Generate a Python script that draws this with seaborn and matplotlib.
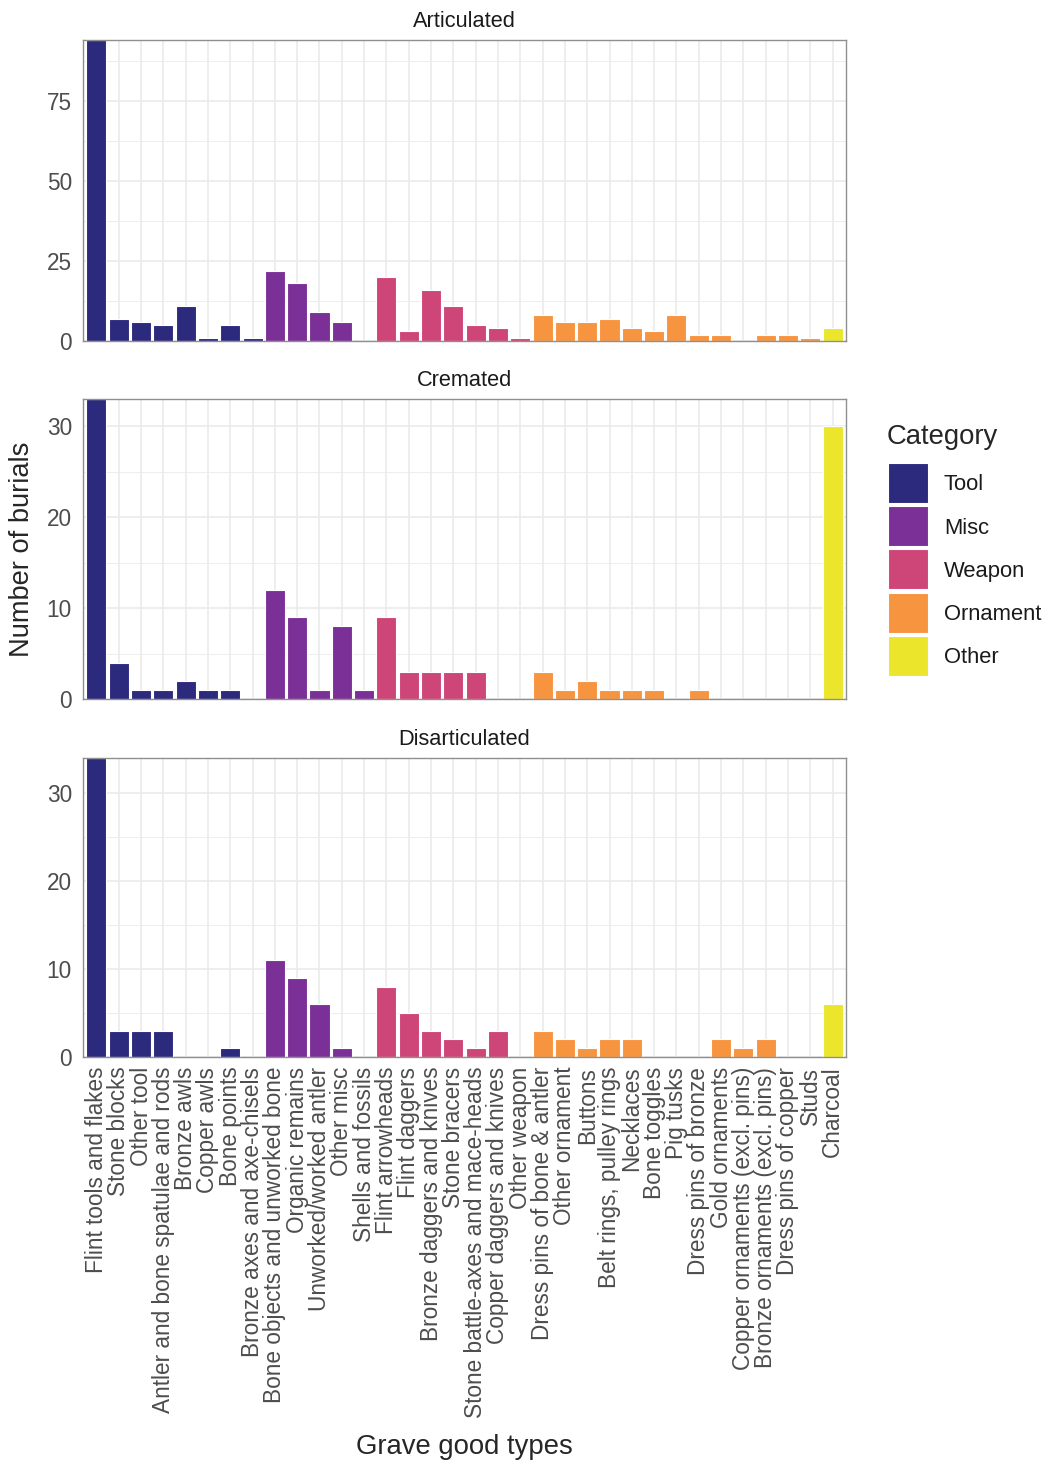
import pandas as pd
import matplotlib.pyplot as plt
import seaborn as sns
from matplotlib.patches import Rectangle
from matplotlib.ticker import FixedLocator

sns.set_style('white')
plt.rcParams['font.family'] = ['Liberation Sans', 'DejaVu Sans']

# grave good types, in plotting order
items = [
    'Flint tools and flakes', 'Stone blocks', 'Other tool',
    'Antler and bone spatulae and rods', 'Bronze awls', 'Copper awls',
    'Bone points', 'Bronze axes and axe-chisels',
    'Bone objects and unworked bone', 'Organic remains',
    'Unworked/worked antler', 'Other misc', 'Shells and fossils',
    'Flint arrowheads', 'Flint daggers', 'Bronze daggers and knives',
    'Stone bracers', 'Stone battle-axes and mace-heads',
    'Copper daggers and knives', 'Other weapon',
    'Dress pins of bone & antler', 'Other ornament', 'Buttons',
    'Belt rings, pulley rings', 'Necklaces', 'Bone toggles', 'Pig tusks',
    'Dress pins of bronze', 'Gold ornaments', 'Copper ornaments (excl. pins)',
    'Bronze ornaments (excl. pins)', 'Dress pins of copper', 'Studs',
    'Charcoal',
]
item_cat = (['Tool'] * 8 + ['Misc'] * 5 + ['Weapon'] * 7
            + ['Ornament'] * 13 + ['Other'])

categories = ['Tool', 'Misc', 'Weapon', 'Ornament', 'Other']
cat_colors = ['#2C2A7C', '#7A3096', '#CE4577', '#F7943F', '#EBE62B']

facets = ['Articulated', 'Cremated', 'Disarticulated']

articulated = [94, 7, 6, 5, 11, 1, 5, 1,
               22, 18, 9, 6, 0,
               20, 3, 16, 11, 5, 4, 1,
               8, 6, 6, 7, 4, 3, 8, 2, 2, 0, 2, 2, 1,
               4]
cremated = [33, 4, 1, 1, 2, 1, 1, 0,
            12, 9, 1, 8, 1,
            9, 3, 3, 3, 3, 0, 0,
            3, 1, 2, 1, 1, 1, 0, 1, 0, 0, 0, 0, 0,
            30]
disarticulated = [34, 3, 3, 3, 0, 0, 1, 0,
                  11, 9, 6, 1, 0,
                  8, 5, 3, 2, 1, 3, 0,
                  3, 2, 1, 2, 2, 0, 0, 0, 2, 1, 2, 0, 0,
                  6]
counts = [articulated, cremated, disarticulated]

y_major = [[0, 25, 50, 75], [0, 10, 20, 30], [0, 10, 20, 30]]
y_minor = [[12.5, 37.5, 62.5, 87.5], [5, 15, 25], [5, 15, 25]]

W, H = 1045, 1462
fig = plt.figure(figsize=(W / 100, H / 100), dpi=100)

# panel boxes in pixels (top, bottom)
left, right = 83, 846
boxes = [(40, 341), (399, 699), (758, 1057)]

for i, facet in enumerate(facets):
    top, bottom = boxes[i]
    ax = fig.add_axes([left / W, 1 - bottom / H, (right - left) / W, (bottom - top) / H])
    df = pd.DataFrame({'item': items, 'count': counts[i], 'Category': item_cat})
    sns.barplot(data=df, x='item', y='count', hue='Category', order=items,
                hue_order=categories, palette=cat_colors, dodge=False,
                saturation=1, width=0.9, edgecolor='white', linewidth=0.8,
                ax=ax, legend=False)
    ax.set_xlim(-0.6, len(items) - 0.4)
    ax.set_ylim(0, max(counts[i]))
    ax.yaxis.set_major_locator(FixedLocator(y_major[i]))
    ax.yaxis.set_minor_locator(FixedLocator(y_minor[i]))
    ax.set_axisbelow(True)
    ax.grid(which='major', axis='both', color='#EBEBEB', linewidth=1.2)
    ax.grid(which='minor', axis='y', color='#EBEBEB', linewidth=0.6)
    for s in ax.spines.values():
        s.set_color('#8F8F8F')
        s.set_linewidth(1.0)
    ax.tick_params(axis='y', which='both', length=0, pad=8, labelsize=16.3, labelcolor='#4D4D4D')
    ax.set_xlabel('')
    ax.set_ylabel('')
    ax.set_title(facet, fontsize=15.7, color='#1A1A1A', pad=9.5)
    if i < 2:
        ax.tick_params(axis='x', length=0, labelbottom=False)
    else:
        ax.tick_params(axis='x', length=0, pad=7, labelsize=16.3, labelcolor='#4D4D4D')
        ax.set_xticks(range(len(items)))
        ax.set_xticklabels(items, rotation=90, ha='center', va='top')

fig.text(22 / W, 1 - 549 / H, 'Number of burials', rotation=90,
         ha='center', va='center', fontsize=19.6)
fig.text(464 / W, 1 - 1447 / H, 'Grave good types', ha='center', va='center', fontsize=19.8)

# legend
fig.text(887 / W, 1 - 437 / H, 'Category', ha='left', va='center', fontsize=19.8)
for k, (cat, col) in enumerate(zip(categories, cat_colors)):
    ktop = 463 + k * 43.2
    fig.patches.append(Rectangle((888 / W, 1 - (ktop + 40) / H), 40 / W, 40 / H,
                                 transform=fig.transFigure, facecolor=col,
                                 edgecolor='white', linewidth=0.8))
    fig.text(944 / W, 1 - (ktop + 22) / H, cat, ha='left', va='center',
             fontsize=15.8, color='#1A1A1A')

fig.savefig('out.png', dpi=100)
